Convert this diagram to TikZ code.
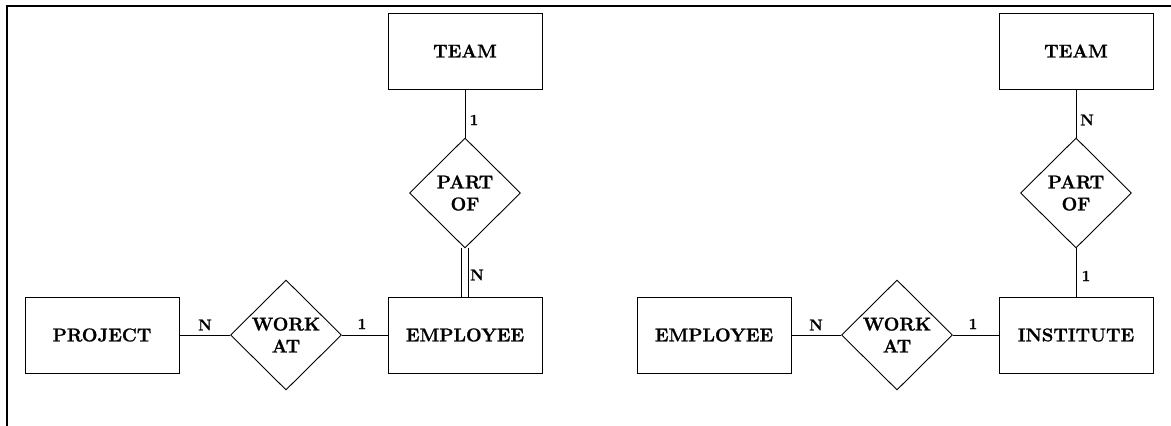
\documentclass[tikz,border=0pt]{standalone}
\usepackage{fontspec}
\setmainfont{Latin Modern Roman}[BoldFeatures={FakeBold=1.2}]
\usetikzlibrary{shapes.geometric}
\begin{document}
\begin{tikzpicture}[x=1pt,y=-1pt,
  entity/.style={draw,line width=0.9pt,minimum width=154pt,minimum height=76pt,inner sep=0pt,font=\fontsize{18.5}{21}\selectfont\bfseries},
  relation/.style={draw,diamond,line width=0.9pt,minimum width=111pt,minimum height=110pt,inner sep=0pt,align=center,font=\fontsize{18.5}{22}\selectfont\bfseries},
  conn/.style={line width=0.9pt},
  card/.style={inner sep=0pt,font=\fontsize{15.5}{17}\selectfont\bfseries}]
\useasboundingbox (0,0) rectangle (1171,426);
\draw[line width=2pt] (7,426) -- (7,6) -- (1171,6);
% left diagram
\node[entity] (team1) at (465,51) {TEAM};
\node[relation] (part1) at (465,193) {PART\\OF};
\node[entity] (emp1) at (465,335) {EMPLOYEE};
\node[relation] (work1) at (286,335) {WORK\\AT};
\node[entity] (proj) at (102,335) {PROJECT};
\draw[conn] (team1) -- (part1);
\draw[conn] ([xshift=-3.3pt]part1.south) -- ([xshift=-3.3pt]part1.south |- emp1.north);
\draw[conn] ([xshift=3.3pt]part1.south) -- ([xshift=3.3pt]part1.south |- emp1.north);
\draw[conn] (proj) -- (work1);
\draw[conn] (work1) -- (emp1);
\node[card] (c1) at (474,120) {1};
\node[card] (c2) at (477,275) {N};
\node[card] (c3) at (205,325) {N};
\node[card] (c4) at (362,324) {1};
% right diagram
\node[entity] (team2) at (1076,51) {TEAM};
\node[relation] (part2) at (1076,193) {PART\\OF};
\node[entity] (inst) at (1076,335) {INSTITUTE};
\node[relation] (work2) at (897,335) {WORK\\AT};
\node[entity] (emp2) at (714,335) {EMPLOYEE};
\draw[conn] (team2) -- (part2);
\draw[conn] (part2) -- (inst);
\draw[conn] (emp2) -- (work2);
\draw[conn] (work2) -- (inst);
\node[card] (c5) at (1087,120) {N};
\node[card] (c6) at (1086,276) {1};
\node[card] (c7) at (816,325) {N};
\node[card] (c8) at (973,324) {1};
\end{tikzpicture}
\end{document}
